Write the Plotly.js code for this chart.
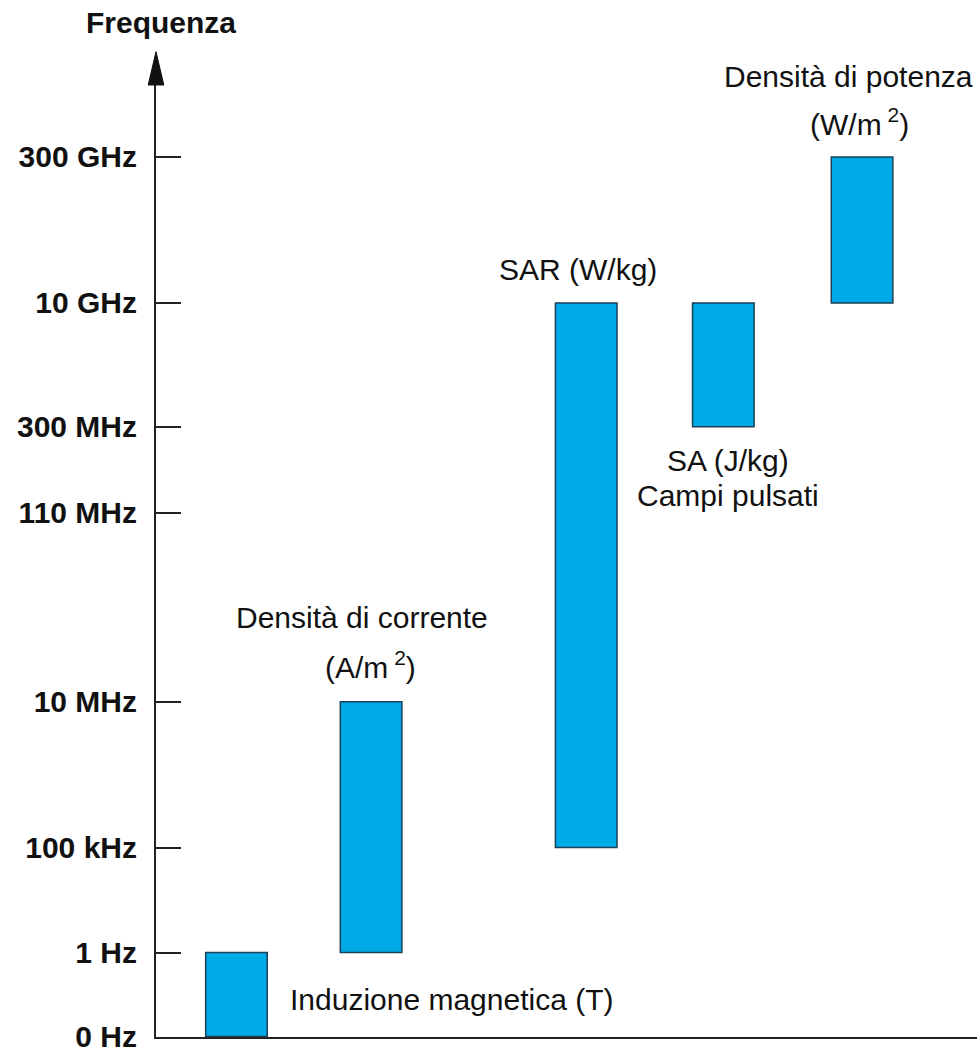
<!DOCTYPE html>
<html>
<head>
<meta charset="utf-8">
<script src="https://cdn.plot.ly/plotly-3.0.1.min.js"></script>
<style>html,body{margin:0;padding:0;background:#fff;}#chart{width:977px;height:1048px;}</style>
</head>
<body>
<div id="chart"></div>
<script>
// Frequency tick labels and their place on the drawn (non-uniform) scale
const freqLabels = ['0 Hz', '1 Hz', '100 kHz', '10 MHz', '110 MHz', '300 MHz', '10 GHz', '300 GHz'];
const freqLevels = [0, 84, 189, 335, 524, 610, 734, 880];

// Quantity bands: from / to frequency
const bandNames = ['Induzione magnetica (T)', 'Densità di corrente (A/m²)', 'SAR (W/kg)', 'SA (J/kg) Campi pulsati', 'Densità di potenza (W/m²)'];
const bandFrom = ['0 Hz', '1 Hz', '100 kHz', '300 MHz', '10 GHz'];
const bandTo = ['1 Hz', '10 MHz', '10 GHz', '10 GHz', '300 GHz'];
const bandX = [9.8, 26.2, 52.4, 69.1, 86.0];

// Label lines (text, x, y on the chart scale, anchor)
const labelText = ['Induzione magnetica (T)', 'Densità di corrente', '(A/m<sup> 2</sup>)', 'SAR (W/kg)', 'SA (J/kg)', 'Campi pulsati', 'Densità di potenza', '(W/m<sup> 2</sup>)'];
const labelX = [16.1, 25.1, 26.1, 51.4, 69.7, 69.7, 84.4, 85.7];
const labelY = [37, 419, 372, 767, 576, 541, 961, 915];
const labelAnchor = ['left', 'center', 'center', 'center', 'center', 'center', 'center', 'center'];

const lvl = l => freqLevels[freqLabels.indexOf(l)];
const bases = bandFrom.map(lvl);
const heights = bandTo.map((t, i) => lvl(t) - bases[i]);

const FONT = 'Liberation Sans, Arial, sans-serif';
const TXT = '#111111';
const Y0 = -0.5, Y1 = 952;

const trace = {
  type: 'bar',
  x: bandX,
  y: heights,
  base: bases,
  width: 7.5,
  text: bandNames,
  hoverinfo: 'text',
  textposition: 'none',
  marker: {color: '#00AAE7', line: {color: '#1d3f57', width: 1.5}},
  showlegend: false
};

// labels use paper y (so the ones above the axis top are not hidden)
const ann = labelText.map((t, i) => ({
  x: labelX[i], y: (labelY[i] - Y0) / (Y1 - Y0), xref: 'x', yref: 'paper', text: t, showarrow: false,
  xanchor: labelAnchor[i], yanchor: 'middle', font: {family: FONT, size: 30, color: TXT}
}));
// Axis title
ann.push({x: 0.006, y: 1.066, xref: 'paper', yref: 'paper', text: 'Frequenza', showarrow: false, xanchor: 'center', yanchor: 'middle', font: {family: FONT, size: 30, color: TXT, weight: 'bold'}});

const layout = {
  width: 977, height: 1048,
  margin: {l: 156, r: 0, t: 85, b: 11, pad: 0},
  paper_bgcolor: '#ffffff', plot_bgcolor: '#ffffff',
  xaxis: {range: [0, 100], showline: true, linecolor: '#222222', linewidth: 2, showgrid: false, zeroline: false, showticklabels: false, ticks: '', fixedrange: true},
  yaxis: {range: [Y0, Y1], showline: true, linecolor: '#222222', linewidth: 2, showgrid: false, zeroline: false,
    tickmode: 'array', tickvals: freqLevels, ticktext: freqLabels, ticks: 'inside', ticklen: 25, tickwidth: 2, tickcolor: '#222222',
    ticklabelstandoff: 11, ticklabeloverflow: 'allow',
    tickfont: {family: FONT, size: 30, color: TXT, weight: 'bold'}, fixedrange: true},
  shapes: [{type: 'path', xref: 'paper', yref: 'paper', path: 'M -0.0095 1 L 0 1.035 L 0.0095 1 Z', fillcolor: '#111111', line: {color: '#111111', width: 1}}],
  annotations: ann,
  showlegend: false
};

Plotly.newPlot('chart', [trace], layout, {displayModeBar: false, staticPlot: true});
</script>
</body>
</html>
